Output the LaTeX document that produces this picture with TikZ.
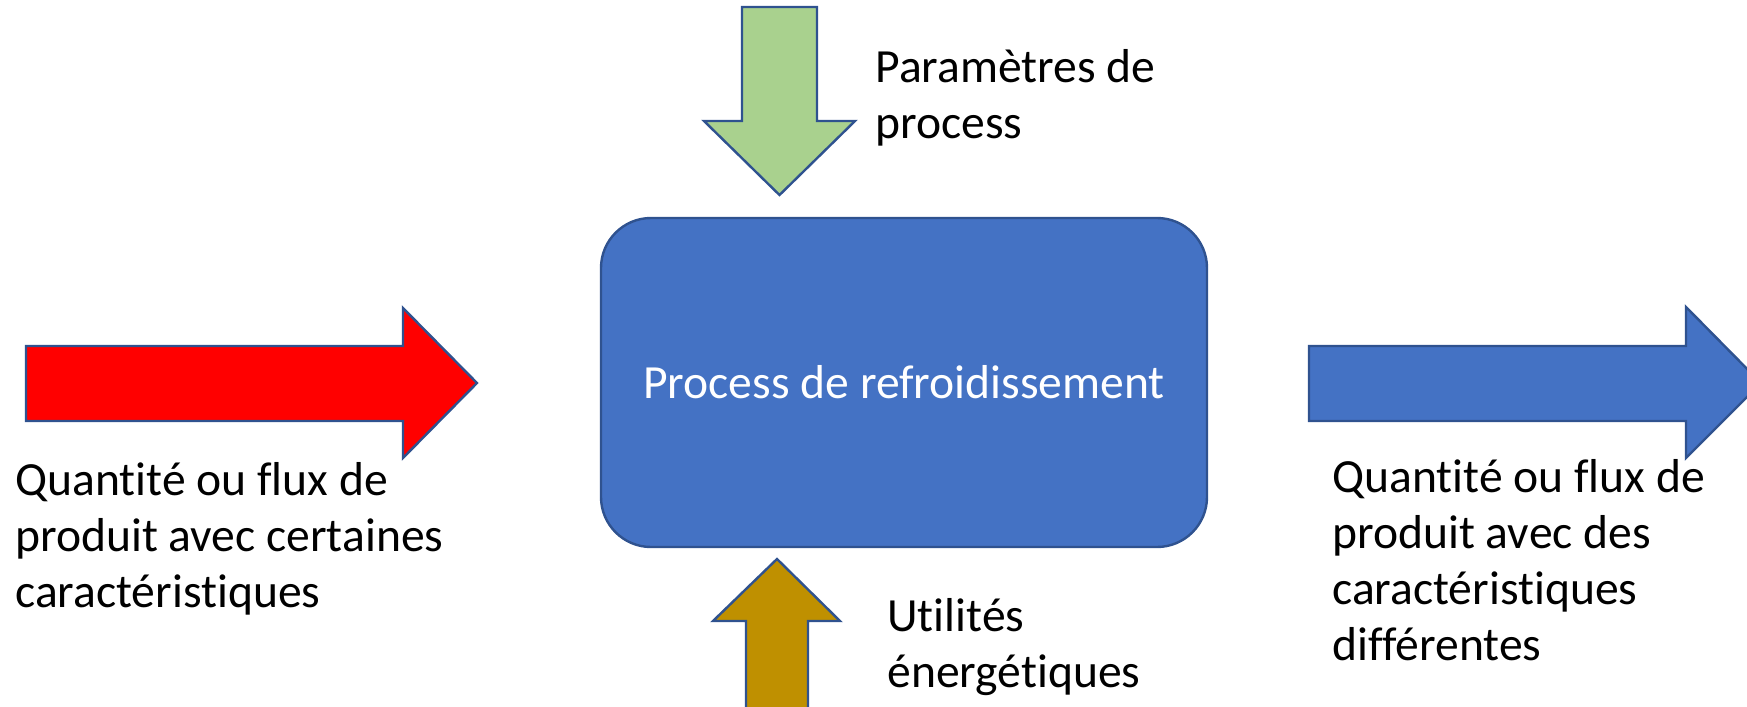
\documentclass[tikz,border=0pt]{standalone}
\usepackage{fontspec}
\setmainfont[Ligatures=NoCommon]{Carlito}
\usetikzlibrary{positioning}

\definecolor{outline}{HTML}{2F528F}
\definecolor{boxblue}{HTML}{4472C4}
\definecolor{paramgreen}{HTML}{A9D18E}
\definecolor{utilgold}{HTML}{BF9000}

\begin{document}
\begin{tikzpicture}[x=0.5pt,y=-0.5pt,
    blockarrow/.style={draw=outline, line width=1.2pt, line join=miter},
    txt/.style={anchor=base west, align=left, inner sep=0pt, font=\fontsize{23.8}{28}\selectfont}]
  \clip (0,0) rectangle (1747,707);

  % the process itself
  \node [draw=outline, fill=boxblue, line width=1.2pt, rounded corners=25pt, minimum width=303pt, minimum height=164.5pt, text=white, font=\fontsize{23.8}{28}\selectfont] (process) at (904,382.5) {Process de refroidissement};

  % flows in and out
  \draw [blockarrow, fill=red] (26,346) -- (403,346) -- (403,308) -- (477,383) -- (403,458) -- (403,421) -- (26,421) -- cycle;
  \draw [blockarrow, fill=boxblue] (1309,346) -- (1686,346) -- (1686,307) -- (1761,383) -- (1686,458) -- (1686,421) -- (1309,421) -- cycle;

  % parameters from above, utilities from below
  \draw [blockarrow, fill=paramgreen] (742,7) -- (817,7) -- (817,121) -- (855,121) -- (779.5,195) -- (704,121) -- (742,121) -- cycle;
  \draw [blockarrow, fill=utilgold] (746,720) -- (746,621) -- (713,621) -- (777,559) -- (840,621) -- (808,621) -- (808,720) -- cycle;

  % labels, placed at the baseline of their last line
  \node [txt] (inflow) at (15,607) {Quantité ou flux de\\produit avec certaines\\caractéristiques};
  \node [txt] (outflow) at (1332,660) {Quantité ou flux de\\produit avec des\\caractéristiques\\différentes};
  \node [txt] (params) at (875,138) {Paramètres de\\process};
  \node [txt] (utils) at (887,687) {Utilités\\énergétiques};
\end{tikzpicture}
\end{document}
